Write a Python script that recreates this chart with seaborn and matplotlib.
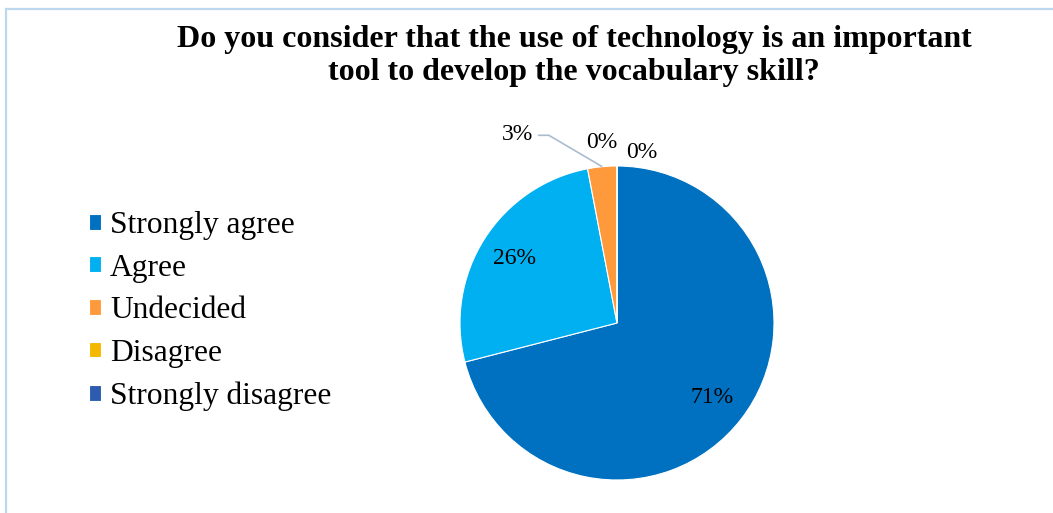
import numpy as np
import matplotlib
matplotlib.use("Agg")
import matplotlib.pyplot as plt
import seaborn as sns
from matplotlib.patches import Rectangle

# Survey answers
categories = ["Strongly agree", "Agree", "Undecided", "Disagree", "Strongly disagree"]
shares = [71, 26, 3, 0, 0]
pct_labels = ["71%", "26%", "3%", "0%", "0%"]
colors = ["#0070C0", "#00B0F0", "#FF9A3C", "#F5B800", "#2D5BB0"]
title = ("Do you consider that the use of technology is an important\n"
         "tool to develop the vocabulary skill?")

sns.set_theme(style="white")
plt.rcParams["font.family"] = ["Liberation Serif", "DejaVu Serif"]
plt.rcParams["text.color"] = "black"

W, H = 1053, 513
fig = plt.figure(figsize=(W / 100, H / 100), dpi=100)

# light frame around the chart area
fig.patches.append(Rectangle((6 / W, -0.05), 1.2, 1 - 9 / H + 0.05,
                             transform=fig.transFigure, fill=False,
                             edgecolor="#BDD7EE", linewidth=1.6))

cx, cy, r = 617, 323, 157
ax = fig.add_axes([(cx - r) / W, (H - cy - r) / H, 2 * r / W, 2 * r / H])

wedges, _ = ax.pie(shares, colors=colors, startangle=90, counterclock=False,
                   radius=1.0, wedgeprops=dict(edgecolor="white", linewidth=0.8))
ax.set_xlim(-1, 1)
ax.set_ylim(-1, 1)
ax.set_aspect("equal")
ax.axis("off")

# slice mid-angles
total = sum(shares)
start = 90.0
mids = []
for v in shares:
    sweep = 360.0 * v / total
    mids.append(np.deg2rad(start - sweep / 2))
    start -= sweep

lab_font = dict(fontsize=17, color="black", ha="center", va="center")
for i in (0, 1):
    d = 0.77
    ax.text(d * np.cos(mids[i]), d * np.sin(mids[i]), pct_labels[i], **lab_font)

# small slice: label outside with an elbow leader line
m = mids[2]
tx, ty = np.cos(m), np.sin(m)
ax.plot([tx, tx - 0.34, tx - 0.41], [ty, ty + 0.20, ty + 0.20],
        color="#A9BCD0", lw=1.2, solid_capstyle="butt", clip_on=False)
ax.text(tx - 0.44, ty + 0.205, pct_labels[2], fontsize=17, color="black",
        ha="right", va="center")
# zero slices
ax.text(-0.10, 1.15, pct_labels[3], **lab_font)
ax.text(0.155, 1.085, pct_labels[4], **lab_font)

fig.text(574 / W, 1 - 56 / H, title, ha="center", va="center",
         fontsize=23, fontweight="bold", linespacing=1.22, color="black")

leg = fig.legend(wedges, categories, loc="center left",
                 bbox_to_anchor=(76 / W, 1 - 311 / H), frameon=False,
                 fontsize=22.7, handlelength=0.4, handleheight=0.4,
                 handletextpad=0.28, labelspacing=0.43, borderaxespad=0)
for t in leg.get_texts():
    t.set_color("black")

fig.savefig("out.png", dpi=100, facecolor="white")
